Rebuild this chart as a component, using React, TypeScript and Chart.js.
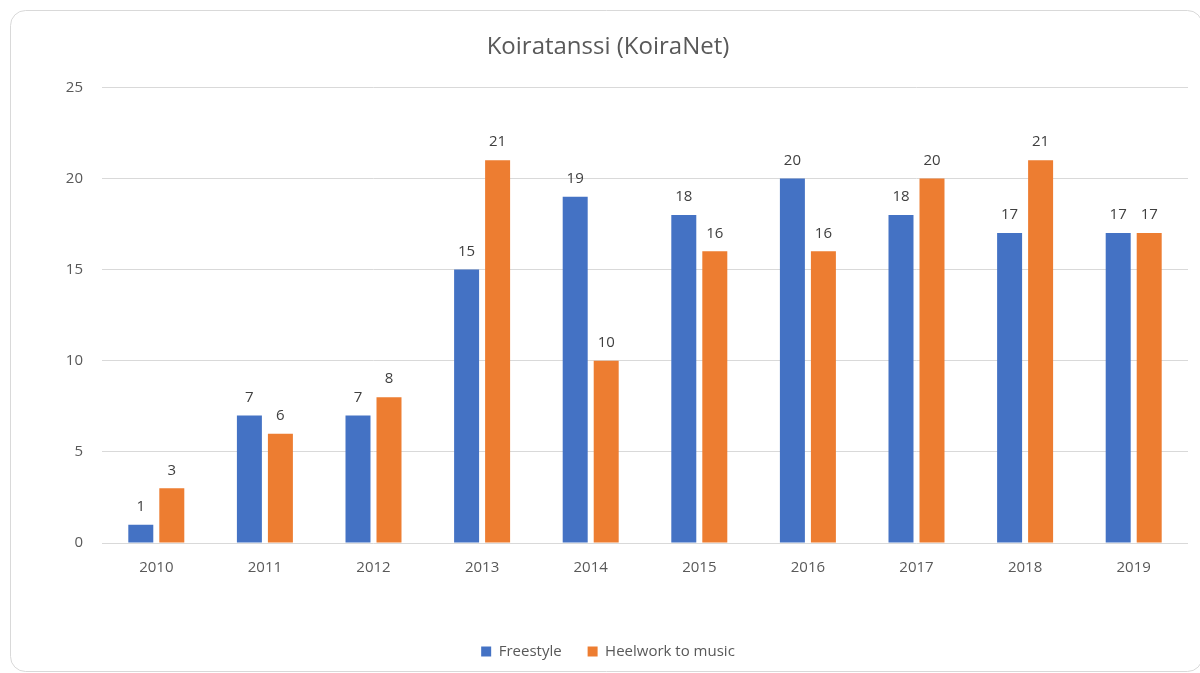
import React, { useEffect, useRef } from "react";
import { Chart, registerables } from "chart.js";

Chart.register(...registerables);

const categories = ["2010", "2011", "2012", "2013", "2014", "2015", "2016", "2017", "2018", "2019"];
const freestyle = [1, 7, 7, 15, 19, 18, 20, 18, 17, 17];
const heelwork = [3, 6, 8, 21, 10, 16, 16, 20, 21, 17];
const seriesNames = ["Freestyle", "Heelwork to music"];
const titleText = "Koiratanssi (KoiraNet)";

const FONT = "'Open Sans', sans-serif";

const frame = {
  id: "frame",
  beforeDraw(chart: any) {
    const ctx = chart.ctx;
    ctx.save();
    ctx.fillStyle = "#ffffff";
    ctx.fillRect(0, 0, chart.width, chart.height);
    ctx.strokeStyle = "#d9d9d9";
    ctx.lineWidth = 1;
    ctx.beginPath();
    (ctx as any).roundRect(10.5, 10.5, 1192, 661, 15);
    ctx.stroke();
    ctx.restore();
  },
};

const valueLabels = {
  id: "valueLabels",
  afterDatasetsDraw(chart: any) {
    const ctx = chart.ctx;
    ctx.save();
    ctx.font = `15px ${FONT}`;
    ctx.fillStyle = "#404040";
    ctx.textAlign = "center";
    ctx.textBaseline = "middle";
    chart.data.datasets.forEach((ds: any, i: number) => {
      const meta = chart.getDatasetMeta(i);
      meta.data.forEach((el: any, j: number) => {
        ctx.fillText(String(ds.data[j]), el.x, el.y - 18);
      });
    });
    ctx.restore();
  },
};

export default function App() {
  const ref = useRef<HTMLCanvasElement | null>(null);
  useEffect(() => {
    if (!ref.current) return;
    const chart = new Chart(ref.current, {
      type: "bar",
      data: {
        labels: categories,
        datasets: [
          { label: seriesNames[0], data: freestyle, backgroundColor: "#4472C4", categoryPercentage: 0.571, barPercentage: 0.806 },
          { label: seriesNames[1], data: heelwork, backgroundColor: "#ED7D31", categoryPercentage: 0.571, barPercentage: 0.806 },
        ],
      },
      options: {
        animation: false,
        responsive: false,
        maintainAspectRatio: false,
        layout: { padding: { left: 28, right: 12, top: 0, bottom: 4 } },
        plugins: {
          title: {
            display: true,
            text: titleText,
            color: "#595959",
            font: { family: FONT, size: 24, weight: "normal" },
            padding: { top: 33, bottom: 25.5 },
          },
          legend: {
            display: true,
            position: "bottom",
            labels: {
              boxWidth: 10,
              boxHeight: 10,
              padding: 26,
              color: "#595959",
              font: { family: FONT, size: 15 },
            },
          },
          tooltip: { enabled: false },
        },
        scales: {
          x: {
            grid: { display: false, drawTicks: false },
            border: { display: false },
            ticks: { color: "#595959", font: { family: FONT, size: 15 }, padding: 16 },
            afterFit(scale: any) {
              scale.height = 75;
            },
          },
          y: {
            min: 0,
            max: 25,
            ticks: { stepSize: 5, color: "#595959", font: { family: FONT, size: 15 }, padding: 19 },
            grid: { color: "#d9d9d9", drawTicks: false, lineWidth: 1 },
            border: { display: false },
            afterFit(scale: any) {
              scale.width = 74;
            },
          },
        },
      },
      plugins: [frame, valueLabels],
    });
    return () => chart.destroy();
  }, []);
  return (
    <div style={{ position: "fixed", left: 0, top: 0, width: 1200, height: 673 }}>
      <canvas ref={ref} width={1200} height={673} style={{ width: 1200, height: 673, display: "block" }} />
    </div>
  );
}
